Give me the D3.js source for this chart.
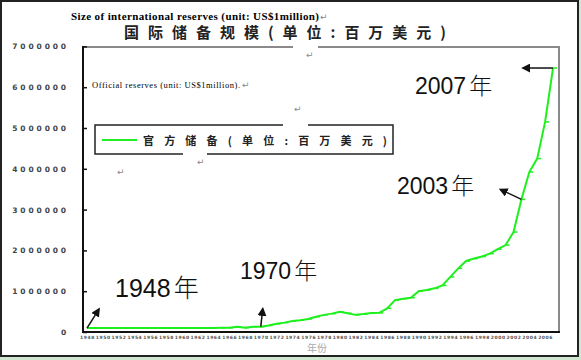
<!DOCTYPE html>
<html>
<head>
<meta charset="utf-8">
<script src="https://cdn.jsdelivr.net/npm/d3@7"></script>
<style>
body { margin: 0; background: #cfe6cf; }
svg { display: block; }
</style>
</head>
<body>
<svg></svg>
<script>
const width = 581;
const height = 360;

// world international reserves, US$ million
const years = [1948, 1949, 1950, 1951, 1952, 1953, 1954, 1955, 1956, 1957,
	1958, 1959, 1960, 1961, 1962, 1963, 1964, 1965, 1966, 1967,
	1968, 1969, 1970, 1971, 1972, 1973, 1974, 1975, 1976, 1977,
	1978, 1979, 1980, 1981, 1982, 1983, 1984, 1985, 1986, 1987,
	1988, 1989, 1990, 1991, 1992, 1993, 1994, 1995, 1996, 1997,
	1998, 1999, 2000, 2001, 2002, 2003, 2004, 2005, 2006, 2007];
const reserves = [95000, 95000, 96000, 96000, 97000, 97000, 98000, 98000, 99000, 99000,
	99000, 100000, 100000, 100000, 100000, 101000, 101000, 102000, 102000, 130000,
	105000, 130000, 130000, 160000, 200000, 230000, 270000, 290000, 320000, 375000,
	420000, 450000, 495000, 460000, 420000, 440000, 465000, 470000, 580000, 780000,
	815000, 840000, 1000000, 1030000, 1070000, 1140000, 1350000, 1560000, 1740000, 1800000,
	1850000, 1920000, 2030000, 2130000, 2450000, 3250000, 3920000, 4250000, 5150000, 6470000];

const yTicks = [0, 1000000, 2000000, 3000000, 4000000, 5000000, 6000000, 7000000];
const xTicks = [1948, 1950, 1952, 1954, 1956, 1958, 1960, 1962, 1964, 1966,
	1968, 1970, 1972, 1974, 1976, 1978, 1980, 1982, 1984, 1986,
	1988, 1990, 1992, 1994, 1996, 1998, 2000, 2002, 2004, 2006];

const noteYears = [1948, 1970, 2003, 2007];

const svg = d3.select('svg')
	.attr('width', width)
	.attr('height', height)
	.style('font-family', '"Liberation Sans", Arial, "Noto Sans CJK SC", sans-serif');

// window background + frame
svg.append('rect')
	.attr('x', 0).attr('y', 0)
	.attr('width', width).attr('height', height)
	.attr('fill', '#cfe6cf');
svg.append('rect')
	.attr('x', 1).attr('y', 1)
	.attr('width', 577).attr('height', 355)
	.attr('fill', '#fff')
	.attr('stroke', '#222')
	.attr('stroke-width', 2);

const x = d3.scaleLinear().domain([1948, 2007]).range([87, 553]);
const y = d3.scaleLinear().domain([0, 7000000]).range([332, 46.4]);

// plot frame
svg.append('path')
	.attr('d', 'M83,47H559V332')
	.attr('fill', 'none')
	.attr('stroke', '#8a8a8a')
	.attr('stroke-width', 2);
svg.append('path')
	.attr('d', 'M83,46V332H560')
	.attr('fill', 'none')
	.attr('stroke', '#111')
	.attr('stroke-width', 2);
svg.append('rect')
	.attr('x', 293).attr('y', 44).attr('width', 25).attr('height', 6)
	.attr('fill', '#fff');

// y axis
const yAxis = d3.axisLeft(y)
	.tickValues(yTicks)
	.tickSizeInner(-4)
	.tickSizeOuter(0)
	.tickPadding(14)
	.tickFormat(d3.format('d'));
const gy = svg.append('g')
	.attr('transform', 'translate(83,0)')
	.call(yAxis);
gy.select('.domain').remove();
gy.selectAll('line').attr('stroke', '#111').attr('stroke-width', 1.5);
gy.selectAll('text')
	.attr('fill', '#444')
	.style('font-family', '"DejaVu Sans", sans-serif')
	.style('font-weight', 'bold')
	.style('font-size', '7.5px')
	.style('letter-spacing', '2.9px');

// x axis (tiny year labels)
const xAxis = d3.axisBottom(x)
	.tickValues(xTicks)
	.tickSize(0)
	.tickPadding(3)
	.tickFormat(d3.format('d'));
const gx = svg.append('g')
	.attr('transform', 'translate(0,333)')
	.call(xAxis);
gx.select('.domain').remove();
gx.selectAll('text')
	.attr('fill', '#555')
	.style('font-family', '"DejaVu Sans", sans-serif')
	.style('font-weight', 'bold')
	.style('font-size', '4.5px')
	.style('letter-spacing', '0.6px');

svg.append('text')
	.attr('x', 317).attr('y', 352)
	.attr('text-anchor', 'middle')
	.attr('fill', '#aaa')
	.style('font-family', '"Noto Sans CJK SC", sans-serif')
	.style('font-size', '10px')
	.text('年份');

// titles
svg.append('text')
	.attr('x', 71).attr('y', 20)
	.attr('textLength', 248)
	.attr('fill', '#000')
	.style('font-family', '"Liberation Serif", "Times New Roman", serif')
	.style('font-weight', 'bold')
	.style('font-size', '11px')
	.text('Size of international reserves (unit: US$1million)');

svg.append('text')
	.attr('x', 124).attr('y', 38)
	.attr('textLength', 322)
	.attr('fill', '#222')
	.style('font-family', '"Noto Sans CJK SC", sans-serif')
	.style('font-weight', 'bold')
	.style('font-size', '15px')
	.text('国际储备规模(单位:百万美元)');

svg.append('text')
	.attr('x', 92).attr('y', 88)
	.attr('textLength', 148)
	.attr('fill', '#000')
	.style('font-family', '"Liberation Serif", "Times New Roman", serif')
	.style('font-size', '8.5px')
	.text('Official reserves (unit: US$1million).');

// paragraph marks left over from the document
const marks = [[320, 20], [306, 58], [294, 112], [197, 165], [117, 175], [242, 88]];
svg.selectAll('text.mark')
	.data(marks)
	.enter()
	.append('text')
	.attr('class', 'mark')
	.attr('x', d => d[0])
	.attr('y', d => d[1])
	.attr('fill', '#888')
	.style('font-family', '"DejaVu Sans", sans-serif')
	.style('font-size', '9px')
	.text('↵');

// legend
svg.append('rect')
	.attr('x', 95).attr('y', 125)
	.attr('width', 298).attr('height', 29)
	.attr('fill', '#fff')
	.attr('stroke', '#222')
	.attr('stroke-width', 1.5);
svg.append('rect').attr('x', 283).attr('y', 123).attr('width', 25).attr('height', 4).attr('fill', '#fff');
svg.append('rect').attr('x', 183).attr('y', 152).attr('width', 24).attr('height', 4).attr('fill', '#fff');
svg.append('line')
	.attr('x1', 102).attr('x2', 137)
	.attr('y1', 140).attr('y2', 140)
	.attr('stroke', '#22ee22')
	.attr('stroke-width', 2);
svg.append('text')
	.attr('x', 143).attr('y', 145)
	.attr('textLength', 244)
	.attr('fill', '#222')
	.style('font-family', '"Noto Sans CJK SC", sans-serif')
	.style('font-weight', 'bold')
	.style('font-size', '11px')
	.text('官方储备(单位:百万美元)');

// series
const points = years.map((yr, i) => [x(yr), y(reserves[i])]);
svg.append('path')
	.datum(points)
	.attr('fill', 'none')
	.attr('stroke', '#1ef01e')
	.attr('stroke-width', 2)
	.attr('d', d3.line());
svg.selectAll('line.stub')
	.data(points)
	.enter()
	.append('line')
	.attr('class', 'stub')
	.attr('x1', d => d[0])
	.attr('x2', d => d[0] + 4)
	.attr('y1', d => d[1])
	.attr('y2', d => d[1])
	.attr('stroke', '#1ef01e')
	.attr('stroke-width', 1.5);

// arrows
svg.append('defs').append('marker')
	.attr('id', 'head')
	.attr('viewBox', '0 0 10 10')
	.attr('refX', 8).attr('refY', 5)
	.attr('markerWidth', 6).attr('markerHeight', 6)
	.attr('orient', 'auto')
	.append('path')
	.attr('d', 'M0,0L10,5L0,10z')
	.attr('fill', '#111');

const at = yr => [x(yr), y(reserves[years.indexOf(yr)])];
const arrowEnds = [[12, -19], [2, -18], [-21, -10], [-30, 0]];
noteYears.forEach((yr, i) => {
	const p = at(yr);
	svg.append('line')
		.attr('x1', p[0]).attr('y1', p[1])
		.attr('x2', p[0] + arrowEnds[i][0]).attr('y2', p[1] + arrowEnds[i][1])
		.attr('stroke', '#111')
		.attr('stroke-width', 1.5)
		.attr('marker-end', 'url(#head)');
});

// annotation labels
const labelPos = [[115, 297, 25], [240, 279, 23], [397, 194, 23], [415, 94, 23]];
noteYears.forEach((yr, i) => {
	const t = svg.append('text')
		.attr('x', labelPos[i][0]).attr('y', labelPos[i][1])
		.attr('fill', '#111')
		.style('font-size', labelPos[i][2] + 'px');
	t.append('tspan').text(yr);
	t.append('tspan')
		.attr('dx', 3)
		.style('font-family', '"Noto Sans CJK SC", sans-serif')
		.style('font-weight', 300)
		.text('年');
});
</script>
</body>
</html>
